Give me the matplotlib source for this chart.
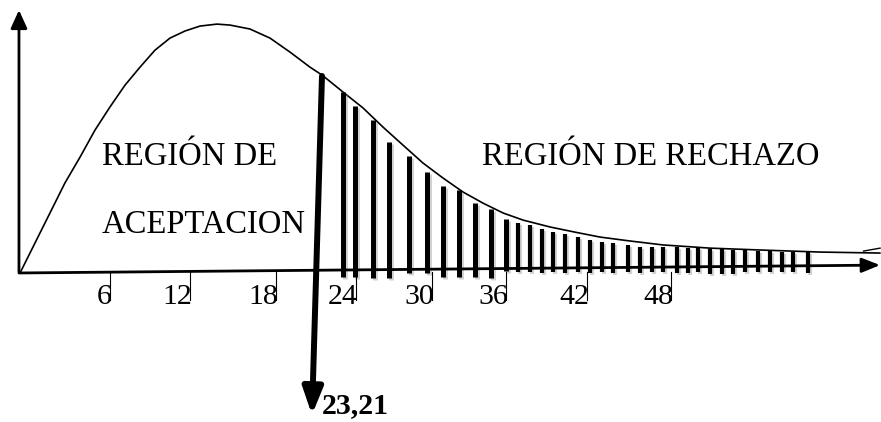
import matplotlib
matplotlib.use("Agg")
import matplotlib.pyplot as plt
import matplotlib.patheffects as pe

plt.rcParams['font.family'] = ['Liberation Serif', 'DejaVu Serif']

# chi-square like curve (x in axis units, y = relative height)
curve_x = [-0.73, 0.39, 1.51, 2.63, 3.76, 4.88, 6.00, 7.13, 8.25, 9.37,
           10.49, 11.62, 12.74, 14.01, 14.99, 16.48, 17.98, 19.48, 20.97, 21.87,
           23.44, 24.94, 26.44, 27.93, 29.43, 30.93, 32.43, 33.92, 35.42, 36.92,
           38.94, 40.81, 42.68, 44.93, 47.39, 50.91, 54.88, 59.15, 63.64]
curve_y = [-0.12, 1.10, 2.32, 3.54, 4.59, 5.69, 6.63, 7.52, 8.25, 8.94,
           9.43, 9.72, 9.92, 10.00, 9.96, 9.80, 9.43, 8.86, 8.25, 7.93,
           7.24, 6.59, 5.81, 5.08, 4.35, 3.74, 3.17, 2.72, 2.32, 2.03,
           1.75, 1.54, 1.34, 1.18, 1.02, 0.89, 0.81, 0.73, 0.69]

# hatch bars of the rejection region
bar_x = [23.44, 24.34, 25.69, 26.88, 28.38, 29.73, 30.93, 32.13, 33.32, 34.52,
         35.64, 36.54, 37.44, 38.34, 39.16, 40.06, 41.03, 41.93, 42.83, 43.66,
         44.78, 45.68, 46.57, 47.39, 48.44, 49.27, 50.01, 50.91, 51.81, 52.63,
         53.53, 54.51, 55.40, 56.30, 57.13, 58.25]
bar_top = [7.24, 6.67, 6.10, 5.20, 4.63, 3.98, 3.41, 3.25, 2.72, 2.48,
           2.07, 1.91, 1.83, 1.67, 1.54, 1.46, 1.34, 1.22, 1.14, 1.10,
           1.02, 0.93, 0.93, 0.93, 0.93, 0.89, 0.89, 0.85, 0.85, 0.81,
           0.81, 0.77, 0.77, 0.73, 0.73, 0.73]
bar_bottom = [-0.28, -0.28, -0.33, -0.33, -0.12, -0.12, -0.28, -0.28, -0.28, -0.33,
              -0.04, -0.08, -0.08, -0.12, -0.08, -0.12, -0.08, -0.12, -0.08, -0.12,
              -0.08, -0.12, -0.08, -0.08, -0.12, -0.12, -0.08, -0.16, -0.16, -0.16,
              -0.08, -0.08, -0.08, -0.08, -0.08, -0.12]

# critical value arrow
crit_top = (21.87, 7.89)
crit_tip = (21.12, -5.89)
crit_label = "23,21"

# ticks on the x axis
tick_pos = [6.0, 12.0, 18.43, 24.41, 30.1, 35.64, 41.7, 48.0]
tick_labels = ["6", "12", "18", "24", "30", "36", "42", "48"]

fig = plt.figure(figsize=(8.81, 4.22), dpi=100)
ax = fig.add_axes([0, 0, 1, 1])
ax.set_xlim(-2.23, 63.71)
ax.set_ylim(-6.18, 10.98)
ax.axis('off')

shadow = [pe.SimpleLineShadow(offset=(1.5, -1.5), shadow_color='gray', alpha=0.35),
          pe.Normal()]

# axes with arrows
ax.annotate('', xy=(-0.81, 10.57), xytext=(-0.81, -0.08),
            arrowprops=dict(arrowstyle='-|>,head_length=0.55,head_width=0.25',
                            lw=2, color='black', shrinkA=0, shrinkB=0,
                            mutation_scale=20))
ax.annotate('', xy=(63.64, 0.20), xytext=(-0.81, -0.12),
            arrowprops=dict(arrowstyle='-|>,head_length=0.55,head_width=0.22',
                            lw=2, color='black', shrinkA=0, shrinkB=0,
                            mutation_scale=20))

# density curve
ax.plot(curve_x, curve_y, color='black', lw=1.2, solid_joinstyle='round',
        solid_capstyle='round')
ax.plot([62.4, 63.64], [0.77, 0.89], color='black', lw=1.0)

# rejection hatch
for i in range(len(bar_x)):
    w = 3.6 if bar_x[i] < 36 else 3.0
    ax.plot([bar_x[i], bar_x[i]], [bar_bottom[i], bar_top[i]], color='black',
            lw=w, solid_capstyle='butt', path_effects=shadow)

# ticks and labels
for p, lab in zip(tick_pos, tick_labels):
    ax.plot([p, p], [-0.1, -1.22], color='black', lw=0.8)
    ax.text(p + 0.15, -1.38, lab, ha='right', va='baseline', fontsize=21.5)

# critical value arrow
ax.annotate('', xy=crit_tip, xytext=crit_top,
            arrowprops=dict(arrowstyle='-|>,head_length=0.8,head_width=0.3',
                            lw=4.3, color='black', shrinkA=0, shrinkB=0,
                            mutation_scale=20))
ax.text(crit_top[0], -5.81, crit_label, ha='left', va='baseline',
        fontsize=21.5, fontweight='bold')

# region labels
ax.text(5.4, 4.27, "REGIÓN DE", ha='left', va='baseline', fontsize=23.5)
ax.text(5.4, 1.50, "ACEPTACION", ha='left', va='baseline', fontsize=23.5)
ax.text(33.85, 4.27, "REGIÓN DE RECHAZO", ha='left', va='baseline', fontsize=23.5)

fig.savefig('out.png', dpi=100)
